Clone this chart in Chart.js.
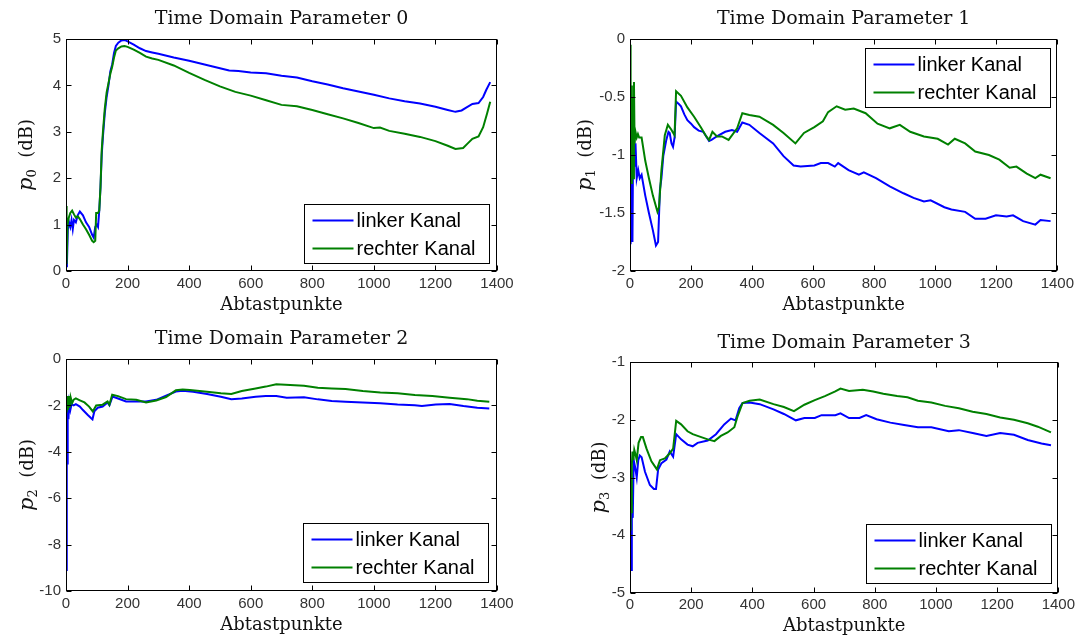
<!DOCTYPE html>
<html lang="de">
<head>
<meta charset="UTF-8">
<title>Time Domain Parameter</title>
<script src="https://cdn.jsdelivr.net/npm/chart.js@4.4.1/dist/chart.umd.min.js"></script>
<style>
  body { margin: 0; background: #fff; }
  #wrap { position: relative; width: 1078px; height: 638px; }
  canvas { position: absolute; }
</style>
</head>
<body>
<div id="wrap">
  <canvas id="c0" width="540" height="320" style="left:0;top:0"></canvas>
  <canvas id="c1" width="538" height="320" style="left:540px;top:0"></canvas>
  <canvas id="c2" width="540" height="318" style="left:0;top:320px"></canvas>
  <canvas id="c3" width="538" height="318" style="left:540px;top:320px"></canvas>
</div>
<script>
// --- Daten ---
const xTicks = [0, 200, 400, 600, 800, 1000, 1200, 1400];
const yTicks0 = [0, 1, 2, 3, 4, 5];
const yTicks1 = [-2, -1.5, -1, -0.5, 0];
const yTicks2 = [-10, -8, -6, -4, -2, 0];
const yTicks3 = [-5, -4, -3, -2, -1];
const titel = ['Time Domain Parameter 0', 'Time Domain Parameter 1', 'Time Domain Parameter 2', 'Time Domain Parameter 3'];
const kanalNamen = ['linker Kanal', 'rechter Kanal'];

const p0Linker = [[0,0.1],[3,0.15],[6,0.9],[10,1.05],[14,0.95],[18,1.1],[22,0.9],[26,1.1],[32,1.05],[38,1.2],[45,1.28],[55,1.2],[65,1.05],[75,0.95],[85,0.78],[90,0.72],[95,0.95],[100,1.0],[104,0.95],[108,1.3],[112,1.8],[116,2.5],[120,2.9],[126,3.4],[132,3.75],[138,4.0],[144,4.3],[150,4.45],[156,4.7],[162,4.85],[170,4.92],[180,4.97],[190,4.98],[200,4.95],[220,4.88],[240,4.8],[260,4.74],[280,4.71],[300,4.68],[350,4.6],[400,4.53],[450,4.45],[500,4.37],[530,4.32],[560,4.31],[600,4.28],[650,4.26],[700,4.21],[750,4.17],[800,4.09],[850,4.02],[900,3.94],[950,3.87],[1000,3.8],[1050,3.72],[1100,3.66],[1150,3.61],[1200,3.54],[1240,3.47],[1265,3.43],[1285,3.46],[1300,3.52],[1320,3.6],[1340,3.62],[1355,3.75],[1365,3.9],[1378,4.07]];
const p0Rechter = [[0,1.4],[2,0.15],[5,1.0],[9,1.15],[14,1.25],[20,1.3],[26,1.22],[32,1.15],[38,1.18],[45,1.12],[55,1.0],[65,0.9],[75,0.78],[85,0.65],[90,0.62],[95,0.65],[98,1.25],[104,1.25],[108,1.3],[112,1.8],[116,2.6],[120,3.0],[126,3.5],[132,3.85],[138,4.05],[144,4.25],[150,4.4],[156,4.6],[162,4.75],[170,4.8],[180,4.84],[190,4.85],[200,4.83],[220,4.77],[240,4.7],[260,4.62],[280,4.58],[300,4.55],[350,4.43],[400,4.27],[450,4.12],[500,3.98],[550,3.86],[600,3.78],[650,3.68],[700,3.58],[750,3.55],[800,3.47],[850,3.38],[900,3.29],[950,3.19],[1000,3.08],[1020,3.09],[1050,3.02],[1100,2.96],[1150,2.89],[1200,2.8],[1240,2.7],[1265,2.63],[1290,2.65],[1305,2.75],[1320,2.85],[1340,2.9],[1355,3.1],[1368,3.4],[1378,3.65]];

const p1Linker = [[0,-1.76],[2,-1.15],[4,-1.7],[6,-1.2],[8,-1.75],[10,-1.0],[13,-0.76],[15,-1.1],[18,-0.9],[22,-1.2],[27,-1.13],[32,-1.2],[38,-1.17],[50,-1.35],[62,-1.5],[75,-1.65],[85,-1.78],[92,-1.75],[98,-1.3],[103,-1.2],[109,-1.01],[119,-0.87],[126,-0.8],[130,-0.81],[136,-0.9],[141,-0.93],[146,-0.85],[151,-0.54],[160,-0.56],[167,-0.58],[178,-0.65],[188,-0.7],[200,-0.73],[210,-0.76],[225,-0.79],[240,-0.8],[259,-0.88],[267,-0.87],[290,-0.83],[312,-0.8],[334,-0.785],[351,-0.8],[368,-0.72],[391,-0.74],[424,-0.81],[469,-0.9],[503,-1.01],[536,-1.09],[559,-1.1],[604,-1.09],[625,-1.07],[649,-1.07],[671,-1.1],[682,-1.07],[716,-1.13],[750,-1.17],[766,-1.15],[806,-1.2],[851,-1.27],[896,-1.33],[929,-1.37],[963,-1.4],[985,-1.39],[1030,-1.45],[1053,-1.47],[1098,-1.49],[1131,-1.55],[1165,-1.55],[1199,-1.52],[1234,-1.53],[1255,-1.52],[1288,-1.57],[1328,-1.6],[1345,-1.56],[1378,-1.57]];
const p1Rechter = [[0,-0.05],[2,-1.1],[4,-0.4],[6,-1.25],[8,-0.5],[10,-1.2],[13,-0.37],[15,-0.9],[18,-0.8],[22,-0.85],[26,-0.82],[30,-0.85],[38,-0.85],[50,-1.05],[62,-1.2],[75,-1.35],[90,-1.49],[95,-1.45],[103,-1.13],[114,-0.83],[124,-0.74],[135,-0.78],[146,-0.83],[151,-0.45],[167,-0.49],[188,-0.59],[210,-0.67],[232,-0.76],[250,-0.84],[259,-0.87],[270,-0.8],[285,-0.84],[301,-0.84],[323,-0.87],[351,-0.77],[368,-0.64],[391,-0.655],[424,-0.67],[469,-0.74],[503,-0.81],[542,-0.9],[570,-0.81],[604,-0.76],[632,-0.71],[649,-0.63],[677,-0.58],[705,-0.61],[733,-0.6],[772,-0.64],[811,-0.73],[851,-0.77],[884,-0.74],[918,-0.8],[963,-0.84],[1008,-0.86],[1042,-0.91],[1064,-0.86],[1098,-0.9],[1131,-0.97],[1176,-1.0],[1210,-1.04],[1244,-1.11],[1266,-1.1],[1300,-1.16],[1328,-1.2],[1345,-1.17],[1378,-1.2]];

const p2Linker = [[0,-9.1],[2,-5.5],[3,-3.9],[4,-4.5],[5,-3.0],[6,-2.2],[8,-2.6],[10,-1.9],[14,-2.2],[18,-1.95],[25,-2.0],[32,-1.95],[45,-2.05],[55,-2.2],[70,-2.4],[81,-2.54],[86,-2.6],[92,-2.26],[103,-2.1],[119,-2.05],[135,-1.87],[141,-1.99],[151,-1.62],[169,-1.7],[195,-1.83],[228,-1.83],[260,-1.83],[293,-1.76],[325,-1.58],[357,-1.4],[379,-1.37],[413,-1.41],[458,-1.51],[503,-1.63],[537,-1.73],[571,-1.7],[616,-1.63],[649,-1.6],[683,-1.6],[717,-1.67],[773,-1.65],[818,-1.74],[863,-1.81],[908,-1.84],[964,-1.88],[1021,-1.91],[1077,-1.96],[1133,-1.99],[1156,-2.03],[1201,-1.96],[1246,-1.94],[1291,-2.03],[1336,-2.1],[1375,-2.13]];
const p2Rechter = [[0,-1.6],[2,-2.3],[4,-1.6],[6,-2.2],[9,-1.6],[12,-2.1],[15,-1.65],[20,-1.9],[25,-1.75],[32,-1.7],[45,-1.78],[60,-1.87],[75,-2.05],[87,-2.26],[98,-2.0],[119,-1.97],[135,-1.83],[141,-1.97],[150,-1.54],[169,-1.6],[195,-1.73],[228,-1.76],[260,-1.87],[293,-1.79],[325,-1.64],[357,-1.35],[379,-1.31],[402,-1.34],[458,-1.41],[503,-1.48],[537,-1.51],[571,-1.38],[616,-1.27],[649,-1.19],[683,-1.09],[728,-1.12],[773,-1.15],[818,-1.24],[863,-1.27],[908,-1.29],[964,-1.38],[1021,-1.44],[1077,-1.48],[1133,-1.55],[1190,-1.6],[1246,-1.67],[1302,-1.73],[1336,-1.8],[1375,-1.84]];

const p3Linker = [[0,-4.6],[2,-3.9],[4,-4.6],[6,-3.4],[9,-3.7],[12,-2.7],[16,-2.8],[22,-3.0],[27,-2.7],[32,-2.62],[38,-2.65],[49,-2.9],[65,-3.13],[78,-3.2],[85,-3.2],[92,-2.86],[103,-2.75],[119,-2.69],[130,-2.55],[141,-2.64],[151,-2.25],[167,-2.34],[188,-2.43],[205,-2.46],[221,-2.4],[254,-2.36],[281,-2.25],[308,-2.08],[330,-1.98],[345,-2.01],[357,-1.8],[368,-1.71],[391,-1.7],[424,-1.73],[469,-1.82],[503,-1.9],[542,-2.01],[570,-1.97],[604,-1.97],[626,-1.92],[671,-1.92],[688,-1.89],[716,-1.97],[750,-1.97],[772,-1.92],[806,-1.99],[851,-2.05],[896,-2.09],[941,-2.13],[985,-2.13],[1042,-2.2],[1075,-2.18],[1120,-2.23],[1165,-2.28],[1210,-2.23],[1255,-2.26],[1300,-2.35],[1345,-2.41],[1376,-2.44]];
const p3Rechter = [[0,-3.9],[2,-3.3],[4,-3.6],[6,-2.8],[8,-2.55],[11,-2.7],[14,-2.52],[18,-2.6],[22,-2.7],[28,-2.4],[36,-2.3],[42,-2.3],[54,-2.5],[70,-2.72],[88,-2.86],[98,-2.7],[114,-2.67],[130,-2.58],[141,-2.5],[151,-2.02],[167,-2.08],[188,-2.2],[205,-2.25],[221,-2.28],[254,-2.34],[276,-2.37],[297,-2.28],[319,-2.22],[341,-2.13],[351,-1.95],[368,-1.71],[391,-1.67],[424,-1.65],[469,-1.73],[503,-1.78],[536,-1.85],[570,-1.74],[604,-1.66],[637,-1.59],[671,-1.51],[688,-1.46],[716,-1.5],[761,-1.48],[795,-1.51],[828,-1.55],[873,-1.59],[907,-1.61],[941,-1.67],[985,-1.7],[1030,-1.76],[1075,-1.8],[1120,-1.86],[1165,-1.9],[1210,-1.96],[1255,-2.0],[1300,-2.06],[1333,-2.12],[1376,-2.22]];

Chart.defaults.font.family = '"Liberation Sans", Arial, sans-serif';

// Rahmen mit nach innen zeigenden Ticks (Matlab-Stil)
const rahmen = {
  id: 'rahmen',
  afterDatasetsDraw(chart) {
    const { ctx, chartArea: a, scales } = chart;
    const L = Math.round(a.left) + 0.5, R = Math.round(a.right) - 0.5;
    const T = Math.round(a.top) + 0.5, B = Math.round(a.bottom) - 0.5;
    ctx.save();
    ctx.strokeStyle = '#000';
    ctx.lineWidth = 1;
    ctx.beginPath();
    scales.x.ticks.forEach(t => {
      const px = Math.round(scales.x.getPixelForValue(t.value)) + 0.5;
      ctx.moveTo(px, B); ctx.lineTo(px, B - 5);
      ctx.moveTo(px, T); ctx.lineTo(px, T + 5);
    });
    scales.y.ticks.forEach(t => {
      const py = Math.round(scales.y.getPixelForValue(t.value)) + 0.5;
      ctx.moveTo(L, py); ctx.lineTo(L + 5, py);
      ctx.moveTo(R, py); ctx.lineTo(R - 5, py);
    });
    ctx.stroke();
    ctx.strokeRect(L, T, R - L, B - T);
    ctx.restore();
  }
};

// Legende im Diagramm mit Kasten
const legendeKasten = {
  id: 'legendeKasten',
  afterDraw(chart, args, o) {
    const { ctx, chartArea: a } = chart;
    const w = 185, h = 59;
    const x = Math.round(a.right - o.rechts - w) + 0.5;
    const y = o.oben != null ? Math.round(a.top + o.oben) + 0.5 : Math.round(a.bottom - o.unten - h) + 0.5;
    ctx.save();
    ctx.fillStyle = '#fff';
    ctx.fillRect(x, y, w, h);
    ctx.strokeStyle = '#000';
    ctx.lineWidth = 1;
    ctx.strokeRect(x, y, w, h);
    ctx.font = '20px "Liberation Sans", Arial, sans-serif';
    ctx.textBaseline = 'middle';
    chart.data.datasets.forEach((ds, i) => {
      const yy = y + 16 + i * 28;
      ctx.strokeStyle = ds.borderColor;
      ctx.lineWidth = 2;
      ctx.beginPath();
      ctx.moveTo(x + 8, yy);
      ctx.lineTo(x + 49, yy);
      ctx.stroke();
      ctx.fillStyle = '#000';
      ctx.fillText(ds.label, x + 52, yy + 1);
    });
    ctx.restore();
  }
};

// y-Achsentitel: kursives p mit Index, dann (dB)
const yTitel = {
  id: 'yTitel',
  afterDraw(chart, args, o) {
    const { ctx, chartArea: a } = chart;
    ctx.save();
    ctx.translate(a.left - o.abstand, (a.top + a.bottom) / 2);
    ctx.rotate(-Math.PI / 2);
    const f1 = 'italic 21px "DejaVu Serif", serif';
    const f2 = '13px "DejaVu Serif", serif';
    const f3 = '18px "DejaVu Serif", serif';
    const rest = '  (dB)';
    ctx.font = f1; const w1 = ctx.measureText('p').width;
    ctx.font = f2; const w2 = ctx.measureText(o.index).width;
    ctx.font = f3; const w3 = ctx.measureText(rest).width;
    let x = -(w1 + w2 + w3) / 2;
    ctx.fillStyle = '#111';
    ctx.textBaseline = 'alphabetic';
    ctx.font = f1; ctx.fillText('p', x, 7); x += w1;
    ctx.font = f2; ctx.fillText(o.index, x, 11); x += w2;
    ctx.font = f3; ctx.fillText(rest, x, 7);
    ctx.restore();
  }
};

function zeichne(id, p) {
  const ctx = document.getElementById(id).getContext('2d');
  return new Chart(ctx, {
    type: 'line',
    data: {
      datasets: [
        { label: kanalNamen[0], data: p.linker.map(d => ({ x: d[0], y: d[1] })), borderColor: '#0000ff', borderWidth: 2, pointRadius: 0, tension: 0, order: 1 },
        { label: kanalNamen[1], data: p.rechter.map(d => ({ x: d[0], y: d[1] })), borderColor: '#008000', borderWidth: 2, pointRadius: 0, tension: 0, order: 0 }
      ]
    },
    options: {
      responsive: false,
      animation: false,
      events: [],
      layout: { padding: { left: 0, right: p.rechts, top: 0, bottom: 0 } },
      scales: {
        x: {
          type: 'linear', min: 0, max: 1400,
          afterBuildTicks: s => { s.ticks = xTicks.map(v => ({ value: v })); },
          afterFit: s => { s.height = p.xHoehe; },
          grid: { display: false, drawTicks: false },
          border: { display: false },
          ticks: { padding: p.xPad, color: '#333', font: { size: 15 }, maxRotation: 0, autoSkip: false, callback: v => String(v) },
          title: { display: true, text: 'Abtastpunkte', color: '#111', font: { family: '"DejaVu Serif", serif', size: 18 }, padding: { top: 0, bottom: p.xTitelPad } }
        },
        y: {
          min: p.yTicks[0], max: p.yTicks[p.yTicks.length - 1],
          afterBuildTicks: s => { s.ticks = p.yTicks.map(v => ({ value: v })); },
          afterFit: s => { s.width = p.yBreite; },
          grid: { display: false, drawTicks: false },
          border: { display: false },
          ticks: { padding: 5, color: '#333', font: { size: 15 }, autoSkip: false, callback: v => String(v) }
        }
      },
      plugins: {
        legend: { display: false },
        tooltip: { enabled: false },
        title: {
          display: true, text: p.titel, fullSize: false, color: '#111',
          font: { family: '"DejaVu Serif", serif', size: 19, weight: 'normal' },
          padding: { top: p.titelOben, bottom: p.titelUnten }
        },
        legendeKasten: p.legende,
        yTitel: { index: p.index, abstand: p.yAbstand }
      }
    },
    plugins: [rahmen, legendeKasten, yTitel]
  });
}

zeichne('c0', { titel: titel[0], index: '0', linker: p0Linker, rechter: p0Rechter, yTicks: yTicks0,
  yBreite: 66, rechts: 43, xHoehe: 49, xPad: 4, xTitelPad: 4, titelOben: 7.6, titelUnten: 8.6, yAbstand: 41,
  legende: { rechts: 8, unten: 8 } });
zeichne('c1', { titel: titel[1], index: '1', linker: p1Linker, rechter: p1Rechter, yTicks: yTicks1,
  yBreite: 90, rechts: 17, xHoehe: 49, xPad: 4, xTitelPad: 4, titelOben: 7.6, titelUnten: 8.6, yAbstand: 46,
  legende: { rechts: 7, oben: 9 } });
zeichne('c2', { titel: titel[2], index: '2', linker: p2Linker, rechter: p2Rechter, yTicks: yTicks2,
  yBreite: 66, rechts: 43, xHoehe: 47, xPad: 4, xTitelPad: 2, titelOben: 7.6, titelUnten: 8.6, yAbstand: 40,
  legende: { rechts: 9, unten: 9 } });
zeichne('c3', { titel: titel[3], index: '3', linker: p3Linker, rechter: p3Rechter, yTicks: yTicks3,
  yBreite: 90, rechts: 17, xHoehe: 45, xPad: 3, xTitelPad: 0.5, titelOben: 11.6, titelUnten: 7.6, yAbstand: 32,
  legende: { rechts: 7, unten: 10 } });
</script>
</body>
</html>
